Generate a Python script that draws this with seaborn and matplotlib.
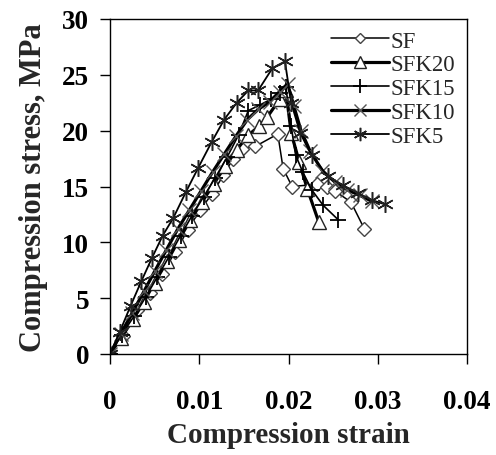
import numpy as np
import pandas as pd
import matplotlib
matplotlib.use("Agg")
import matplotlib.pyplot as plt
import seaborn as sns

# ---- data ----
sf_x = [0, 0.0015, 0.0030, 0.0045, 0.0058, 0.0073, 0.0087, 0.0101, 0.0114, 0.0127, 0.0138,
        0.0148, 0.0163, 0.0188, 0.0194, 0.0204, 0.0232, 0.0243, 0.0252, 0.0270, 0.0285]
sf_y = [0, 1.6, 3.9, 5.5, 7.2, 9.1, 11.1, 12.9, 14.3, 16.0, 17.5,
        18.4, 18.6, 19.7, 16.6, 15.0, 15.2, 15.0, 14.6, 13.6, 11.2]

sfk20_x = [0, 0.0012, 0.0026, 0.0038, 0.0050, 0.0064, 0.0077, 0.0090, 0.0103, 0.0116, 0.0129,
           0.0142, 0.0155, 0.0167, 0.0176, 0.0190, 0.0197, 0.0203, 0.0212, 0.0221, 0.0234]
sfk20_y = [0, 1.4, 3.1, 4.7, 6.4, 8.3, 10.2, 12.0, 13.6, 15.2, 16.8,
           18.3, 19.6, 20.4, 21.2, 22.8, 23.6, 19.8, 17.2, 14.8, 11.8]

sfk15_x = [0, 0.0013, 0.0027, 0.0040, 0.0053, 0.0066, 0.0079, 0.0092, 0.0105, 0.0118, 0.0131,
           0.0144, 0.0155, 0.0168, 0.0180, 0.0190, 0.0197, 0.0203, 0.0208, 0.0216, 0.0226,
           0.0239, 0.0256]
sfk15_y = [0, 1.7, 3.4, 5.1, 6.9, 8.7, 10.6, 12.4, 14.1, 15.8, 17.6,
           19.6, 21.8, 22.3, 22.8, 23.4, 23.9, 20.4, 17.8, 16.3, 14.7,
           13.3, 12.0]

sfk10_x = [0, 0.0012, 0.0025, 0.0038, 0.0050, 0.0063, 0.0076, 0.0089, 0.0102, 0.0115, 0.0128,
           0.0141, 0.0154, 0.0166, 0.0179, 0.0190, 0.0199, 0.0206, 0.0214, 0.0224, 0.0238,
           0.0252, 0.0266, 0.0280, 0.0293]
sfk10_y = [0, 1.8, 3.7, 5.6, 7.4, 9.3, 11.2, 12.9, 14.6, 16.3, 17.9,
           19.5, 21.0, 21.9, 22.6, 23.5, 24.2, 22.2, 20.0, 18.2, 16.4,
           15.4, 14.7, 14.2, 13.7]

sfk5_x = [0, 0.0011, 0.0023, 0.0035, 0.0047, 0.0059, 0.0071, 0.0085, 0.0099, 0.0114, 0.0128,
          0.0142, 0.0155, 0.0166, 0.0182, 0.0196, 0.0203, 0.0213, 0.0226, 0.0244, 0.0261,
          0.0278, 0.0293, 0.0308]
sfk5_y = [0, 2.0, 4.3, 6.5, 8.6, 10.6, 12.2, 14.5, 16.7, 19.0, 21.0,
          22.5, 23.6, 23.6, 25.6, 26.2, 22.5, 19.8, 17.8, 15.9, 15.1,
          14.4, 13.8, 13.4]

series_names = ["SF", "SFK20", "SFK15", "SFK10", "SFK5"]
x_ticks = [0, 0.01, 0.02, 0.03, 0.04]
x_tick_labels = ["0", "0.01", "0.02", "0.03", "0.04"]
y_ticks = [0, 5, 10, 15, 20, 25, 30]

sns.set_style("ticks")
plt.rcParams["font.family"] = ["Liberation Serif", "DejaVu Serif"]

fig = plt.figure(figsize=(4.96, 4.56), dpi=100)
ax = fig.add_axes([110 / 496, 1 - 355 / 456, (467 - 110) / 496, (355 - 20) / 456])

styles = {
    "SF":    dict(marker="D", markersize=7, lw=1.1, mfc="white", mec="#444444", mew=1.0),
    "SFK20": dict(marker="^", markersize=10, lw=2.3, mfc="white", mec="#222222", mew=1.0),
    "SFK15": dict(marker="+", markersize=12, lw=1.2, mfc="none", mec="black", mew=1.3),
    "SFK10": dict(marker="x", markersize=10, lw=2.3, mfc="none", mec="#555555", mew=1.0),
    "SFK5":  dict(marker=(6, 2, 0), markersize=12, lw=1.3, mfc="none", mec="#222222", mew=1.1),
}
data = {
    "SF": (sf_x, sf_y),
    "SFK20": (sfk20_x, sfk20_y),
    "SFK15": (sfk15_x, sfk15_y),
    "SFK10": (sfk10_x, sfk10_y),
    "SFK5": (sfk5_x, sfk5_y),
}

for name in series_names:
    xs, ys = data[name]
    st = styles[name]
    df = pd.DataFrame({"strain": xs, "stress": ys})
    sns.lineplot(data=df, x="strain", y="stress", ax=ax, sort=False, estimator=None,
                 color="black", linewidth=st["lw"], marker=st["marker"],
                 markersize=st["markersize"], markerfacecolor=st["mfc"],
                 markeredgecolor=st["mec"], markeredgewidth=st["mew"], label=name)

ax.set_xlim(0, 0.04)
ax.set_ylim(0, 30)
ax.set_xticks(x_ticks)
ax.set_xticklabels(x_tick_labels)
ax.set_yticks(y_ticks)
for s in ax.spines.values():
    s.set_visible(True)
    s.set_linewidth(1.0)
    s.set_color("black")
ax.tick_params(axis="both", direction="out", length=7, width=1.0, colors="black")
ax.tick_params(axis="x", pad=18)
ax.tick_params(axis="y", pad=8)
for lab in ax.get_xticklabels() + ax.get_yticklabels():
    lab.set_fontsize(19.5)
    lab.set_fontweight("bold")

ax.set_xlabel("Compression strain", fontsize=21, fontweight="bold", labelpad=5)
ax.set_ylabel("Compression stress, MPa", fontsize=22, fontweight="bold", labelpad=10)

leg = ax.legend(loc="upper right", frameon=False, fontsize=16.5, handlelength=2.5,
                handletextpad=0.1, labelspacing=0.12, borderaxespad=0.1,
                markerscale=0.8, bbox_to_anchor=(1.0, 1.0))

fig.savefig("out.png", dpi=100)
